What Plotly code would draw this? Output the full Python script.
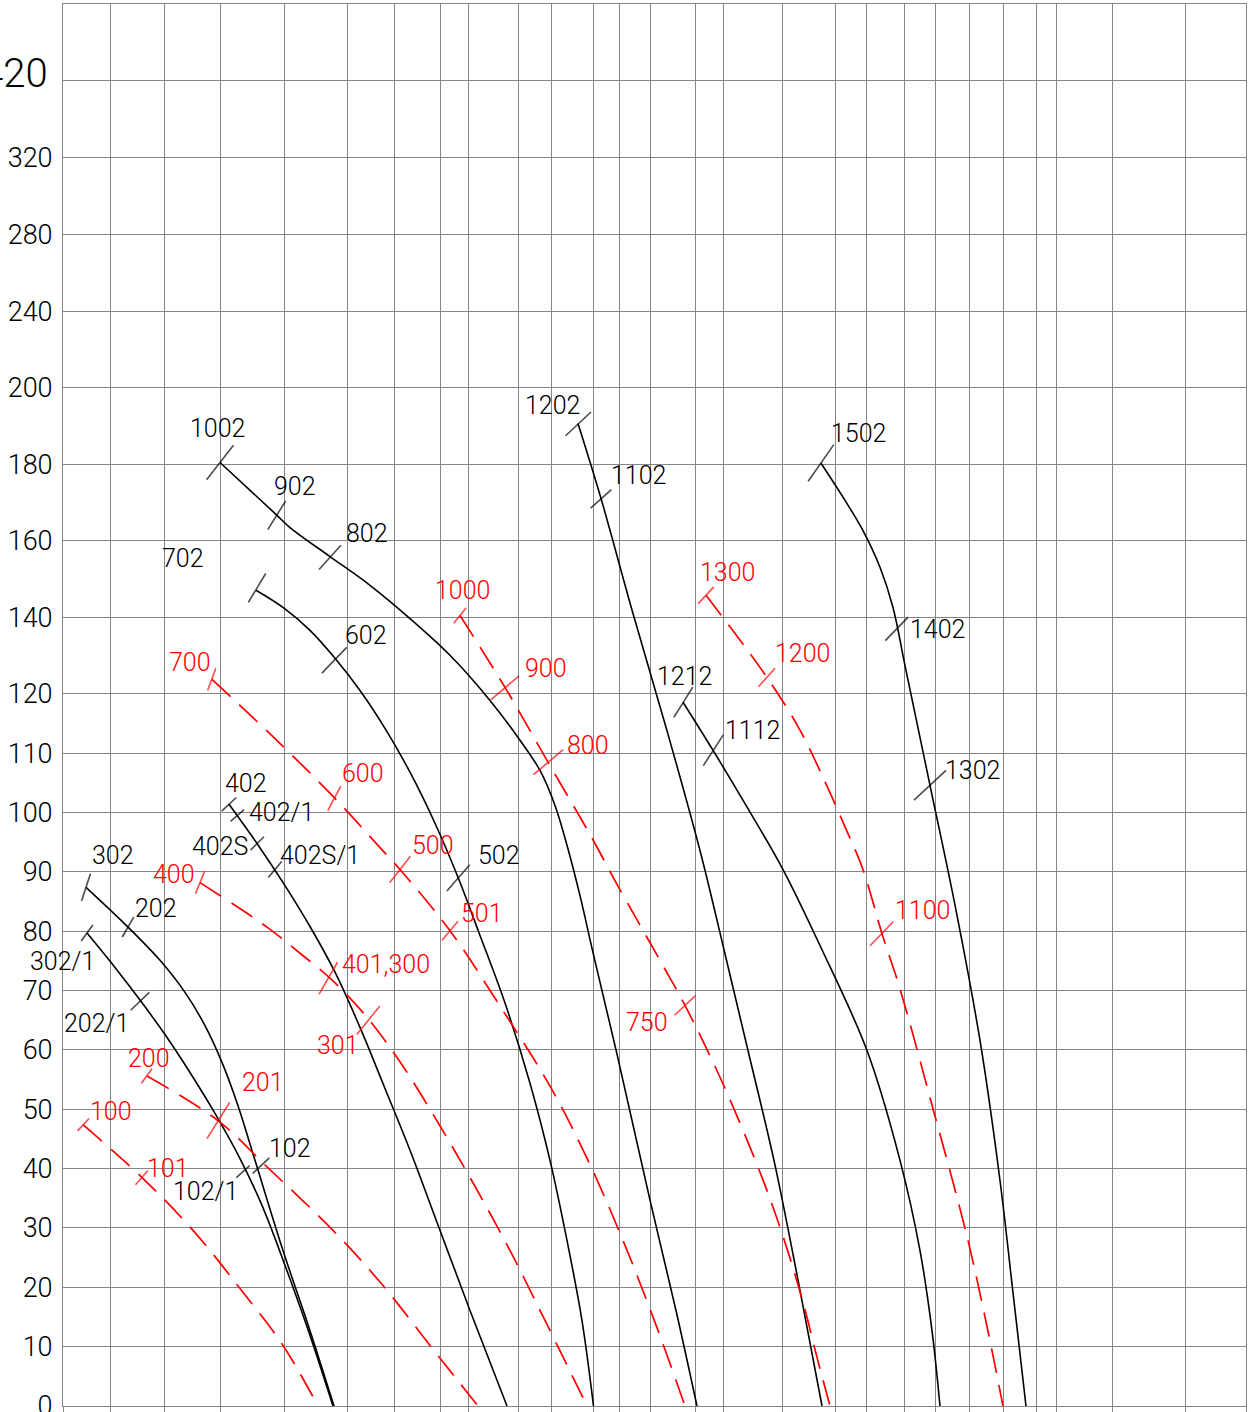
import numpy as np
import plotly.graph_objects as go

FONT = "Roboto"
BLACK = "#000000"
RED = "#ff0000"
GRID = "#858585"

# ---- y axis: piecewise linear scale (value -> display units) ----
Y_BREAK_VALUES = [0, 120, 200, 400]
Y_BREAK_DISPLAY = [0.0, 120.0, 171.56, 236.26]

Y_TICK_VALUES = [0, 10, 20, 30, 40, 50, 60, 70, 80, 90, 100, 110, 120,
                 140, 160, 180, 200, 240, 280, 320, 360]
Y_TICK_LABELS = ["0", "10", "20", "30", "40", "50", "60", "70", "80", "90", "100",
                 "110", "120", "140", "160", "180", "200", "240", "280", "320", ""]
Y_TOP_VALUE = 360
Y_TOP_LABEL = "420"

# ---- x axis (no labels): vertical grid positions ----
X_GRID = [63.3, 110.7, 164.3, 220.3, 284.3, 347.3, 394.7, 440.7, 468.3, 518.3,
          551.7, 593.3, 619, 650, 695.7, 723.3, 782.7, 835.7, 866.7, 904,
          935.7, 969.3, 1003.3, 1036.7, 1056, 1112.7, 1185.7, 1246]

# ---- black (solid) curves ----
C302_X = [86, 128, 160, 185, 205, 222, 238, 255, 283, 310, 334]
C302_Y = [87.4, 80.7, 75.1, 69.7, 64.1, 57.9, 50.6, 41.4, 26.2, 12.7, 0]

C302_1_X = [87, 115, 140, 165, 190, 215, 240, 262, 285, 310, 333]
C302_1_Y = [79.7, 73.9, 68.4, 62.6, 56.2, 49.3, 41.7, 33.8, 23.7, 11.9, 0]

C402_X = [229, 257, 285, 310, 335, 360, 385, 410, 440, 470, 507]
C402_Y = [101.4, 94.8, 87.7, 80.8, 73.1, 63.8, 53.5, 43.1, 29.6, 16.1, 0]

C702_X = [256, 283, 310, 335, 360, 385, 410, 435, 458, 480, 505, 530, 550, 567, 582, 593.5]
C702_Y = [147.1, 142.6, 136.6, 129.3, 120.9, 114.2, 106.8, 98.2, 89.1, 79.3, 67.9, 54.4,
          41.4, 27.9, 14.4, 0]

C1002_X = [220, 277, 290, 330, 370, 410, 450, 490, 520, 540, 555, 567, 580, 593, 617, 650, 676, 697]
C1002_Y = [180.5, 166.7, 163.5, 155.9, 148.4, 139.7, 130.1, 118.9, 112.2, 107.1, 101.2, 94.5,
           86.0, 76.4, 59.3, 34.7, 16.1, 0]

C1202_X = [578, 601, 633, 667, 700, 723, 748, 775, 800, 822]
C1202_Y = [190.7, 171.1, 141.0, 113.8, 93.6, 77.6, 59.9, 40.6, 19.5, 0]

C1212_X = [683, 713, 745, 783, 820, 867, 900, 920, 932, 940]
C1212_Y = [118.6, 110.5, 101.5, 90.4, 77.6, 59.9, 41.4, 26.2, 12.7, 0]

C1502_X = [821, 845, 863, 880, 893, 905, 930, 955, 980, 1000, 1013, 1026]
C1502_Y = [180.3, 170.6, 162.7, 153.1, 142.6, 127.4, 104.6, 84.4, 61.6, 38.0, 19.1, 0]

# ---- red (dashed) curves ----
R100_X = [83, 142, 193, 240, 283, 318]
R100_Y = [47.4, 38.5, 29.6, 19.8, 10.2, 0]

R200_X = [147, 218, 267, 333, 383, 430, 478]
R200_Y = [55.6, 48.1, 40.3, 29.6, 20.3, 10.2, 0]

R400_X = [200, 267, 300, 330, 365, 400, 435, 470, 510, 548, 587]
R400_Y = [88.2, 80.7, 76.3, 72.1, 65.9, 58.0, 48.6, 38.5, 26.2, 13.4, 0]

R700_X = [212, 258, 290, 335, 380, 400, 450, 500, 550, 588, 623, 655, 685]
R700_Y = [123.8, 115.2, 110.0, 102.4, 94.1, 90.4, 80.1, 67.4, 53.9, 41.4, 27.9, 14.1, 0]

R1000_X = [460, 505, 548, 592, 617, 660, 685, 720, 760, 783, 802, 817, 830]
R1000_Y = [140.5, 121.7, 108.5, 95.7, 87.9, 75.1, 67.5, 55.4, 39.4, 28.6, 18.1, 8.2, 0]

R1300_X = [706, 767, 800, 825, 845, 863, 882, 900, 933, 967, 987, 1003]
R1300_Y = [145.8, 124.3, 113.9, 105.2, 97.6, 90.4, 79.6, 70.3, 50.1, 28.6, 13.4, 0]

BLACK_CURVES = [(C302_X, C302_Y), (C302_1_X, C302_1_Y), (C402_X, C402_Y), (C702_X, C702_Y),
                (C1002_X, C1002_Y), (C1202_X, C1202_Y), (C1212_X, C1212_Y), (C1502_X, C1502_Y)]
RED_CURVES = [(R100_X, R100_Y), (R200_X, R200_Y), (R400_X, R400_Y), (R700_X, R700_Y),
              (R1000_X, R1000_Y), (R1300_X, R1300_Y)]

# ---- labelled points ----
LABEL_TEXT = ["302", "202", "102", "302/1", "202/1", "102/1", "402", "402/1", "402S", "402S/1",
              "702", "602", "502", "1002", "902", "802", "1202", "1102", "1212", "1112",
              "1502", "1402", "1302",
              "100", "101", "200", "201", "400", "401,300", "301", "700", "600", "500", "501",
              "1000", "900", "800", "750", "1300", "1200", "1100"]
LABEL_X = [86, 128, 261, 87, 140, 243, 229, 237.3, 257.3, 275,
           257, 334.3, 458.3, 220, 276.7, 330, 578.3, 601, 683.3, 713.3,
           821, 896.7, 930,
           83.3, 141.7, 146.7, 218.3, 200, 328.3, 368.3, 211.7, 334.3, 400, 450,
           460, 505, 548.3, 685, 706, 766.7, 881.7]
LABEL_Y = [87.4, 80.7, 40.5, 79.7, 68.2, 39.5, 101.4, 99.5, 94.8, 90.4,
           147.7, 128.8, 89.0, 180.5, 166.7, 155.7, 190.6, 171.0, 118.6, 110.5,
           180.4, 137.0, 104.6,
           47.4, 38.5, 55.6, 48.1, 88.2, 72.1, 65.0, 123.8, 102.4, 90.4, 80.1,
           140.5, 121.6, 108.5, 67.5, 145.8, 124.3, 79.6]
LABEL_RED = [False] * 23 + [True] * 18

# ---- styles for tick marks and label placement (px) ----
TICK_ANGLE = [18, 30, 47, 36, 46, 48, 47, 49, 45, 40,
              31, 44, 41, 38, 32, 42, 47, 48, 32, 33,
              35, 44, 47,
              43, 41, 36, 32, 22, 30, 39, 20, 28, 38, 40,
              39, 50, 50, 47, 43, 42, 44]
TICK_LEN = [29, 23, 23, 20, 26, 18, 20, 18, 19, 21,
            34, 36, 35, 44, 34, 33, 35, 28, 36, 37,
            45, 33, 44,
            17, 19, 18, 43, 24, 37, 37, 24, 28, 34, 25,
            20, 37, 39, 29, 23, 25, 34]
LABEL_DX = [4, 5, 6, 10, -9, -3, -6, 10, -7, 3,
            -51, 9, 18, -32, -5, 14, 4, 8, -28, 10,
            8, 11, 13,
            5, 3, -21, 22, -3, 12, -7, 1, 6, 10, 9,
            -27, 18, 17, -15, -8, 6, 11]
LABEL_DY = [-32, -19, -17, 28, 22, 20, -21, -3.5, 3, -14.5,
            -29, -25, -22, -34, -29, -24, -18.5, -23, -26, -20,
            -29.5, 0.5, -15,
            -13, -9, -18, -38, -8, -14, 25, -17, -25, -24, -17,
            -25, -19, -17, 17, -23, -24, -23]
LABEL_ANCHOR = ["left", "left", "left", "right", "right", "right", "left", "left", "right", "left",
                "right", "left", "left", "left", "left", "left", "right", "left", "left", "left",
                "left", "left", "left",
                "left", "left", "left", "left", "right", "left", "right", "right", "left", "left",
                "left", "left", "left", "left", "right", "left", "left", "left"]


def to_display(v):
    return np.interp(np.asarray(v, dtype=float), Y_BREAK_VALUES, Y_BREAK_DISPLAY)


fig = go.Figure()

for xs, ys in BLACK_CURVES:
    fig.add_trace(go.Scatter(x=xs, y=to_display(ys), mode="lines",
                             line=dict(color=BLACK, width=1.6, shape="spline", smoothing=1.0),
                             hoverinfo="skip", showlegend=False))
for xs, ys in RED_CURVES:
    fig.add_trace(go.Scatter(x=xs, y=to_display(ys), mode="lines",
                             line=dict(color=RED, width=1.7, shape="spline", smoothing=1.0,
                                       dash="25px,12px"),
                             hoverinfo="skip", showlegend=False))

for is_red, col in [(False, BLACK), (True, RED)]:
    idx = [i for i, r in enumerate(LABEL_RED) if r == is_red]
    fig.add_trace(go.Scatter(
        x=[LABEL_X[i] for i in idx],
        y=to_display([LABEL_Y[i] for i in idx]),
        mode="markers",
        marker=dict(symbol="line-ns", size=[TICK_LEN[i] / 1.41 for i in idx],
                    angle=[TICK_ANGLE[i] for i in idx], color=col,
                    line=dict(color=col, width=1.6)),
        hoverinfo="skip", showlegend=False))

annotations = []
for i, t in enumerate(LABEL_TEXT):
    col = RED if LABEL_RED[i] else BLACK
    annotations.append(dict(
        x=LABEL_X[i], y=float(to_display(LABEL_Y[i])), xref="x", yref="y",
        text=t, showarrow=False, xanchor=LABEL_ANCHOR[i], yanchor="middle",
        xshift=LABEL_DX[i], yshift=-LABEL_DY[i],
        font=dict(family=FONT, size=25, color=col, weight=300)))

W, H = 1253, 1412
ML, MR, MT, MB = 63, 7, 4, 6
annotations.append(dict(
    x=(50 - ML) / (W - ML - MR), y=float(to_display(Y_TOP_VALUE)), xref="paper", yref="y",
    text=Y_TOP_LABEL, showarrow=False, xanchor="right", yanchor="middle", yshift=7,
    font=dict(family="Liberation Sans Narrow, " + FONT, size=40, color=BLACK, weight=300)))

fig.update_layout(
    width=W, height=H,
    margin=dict(l=ML, r=MR, t=MT, b=MB, pad=0, autoexpand=False),
    paper_bgcolor="white", plot_bgcolor="white",
    showlegend=False,
    annotations=annotations,
    xaxis=dict(range=[63, 1246], tickvals=X_GRID, showticklabels=False,
               showgrid=True, gridcolor=GRID, gridwidth=1,
               ticks="outside", ticklen=7, tickcolor=GRID, tickwidth=1,
               showline=True, linecolor=GRID, linewidth=1, mirror=True,
               zeroline=False, fixedrange=True, automargin=False),
    yaxis=dict(range=[0, Y_BREAK_DISPLAY[-1]], tickvals=to_display(Y_TICK_VALUES),
               ticktext=Y_TICK_LABELS, showgrid=True, gridcolor=GRID, gridwidth=1,
               ticks="", ticklabelstandoff=4, ticklabeloverflow="allow",
               tickfont=dict(family=FONT, size=27, color=BLACK, weight=300),
               showline=True, linecolor=GRID, linewidth=1, mirror=True,
               zeroline=False, fixedrange=True, automargin=False),
)

fig.write_html("out.html",
               config={"displayModeBar": False, "staticPlot": True},
               post_script="document.body.style.margin='0px';document.body.style.padding='0px';"
                           "document.documentElement.style.overflow='hidden';")
